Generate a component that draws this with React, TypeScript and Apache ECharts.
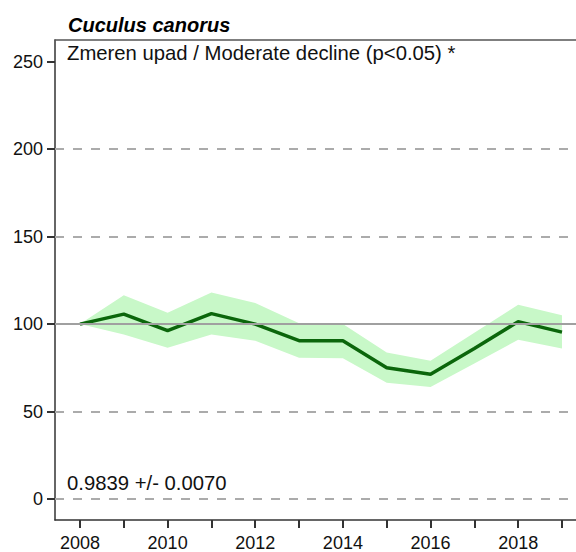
import React, { useEffect, useRef } from "react";
import * as echarts from "echarts";

const years = [2008, 2009, 2010, 2011, 2012, 2013, 2014, 2015, 2016, 2017, 2018, 2019];
const indexValues = [100, 105.7, 96.2, 106, 100, 90.5, 90.5, 75, 71.3, 86, 101.4, 95.4];
const upperValues = [100, 116.5, 106.5, 118, 112, 100.5, 100, 83.7, 79, 95, 111, 105];
const lowerValues = [100, 94, 86.5, 94, 90.5, 80.7, 80.5, 66.4, 64, 77.5, 91, 86];
const xTickValues = [2008, 2009, 2010, 2011, 2012, 2013, 2014, 2015, 2016, 2017, 2018, 2019];
const xLabelValues = [2008, 2010, 2012, 2014, 2016, 2018];
const yTickValues = [0, 50, 100, 150, 200, 250];
const dashedLines = [0, 50, 150, 200];
const referenceLine = 100;
const titleText = "Cuculus canorus";
const subtitleText = "Zmeren upad / Moderate decline (p<0.05) *";
const slopeText = "0.9839 +/- 0.0070";

const FONT = "'Liberation Sans', Arial, sans-serif";

export default function App() {
  const ref = useRef<HTMLDivElement>(null);
  useEffect(() => {
    if (!ref.current) return;
    const chart = echarts.init(ref.current, undefined, { renderer: "svg" });
    const xMin = 2007.43;
    const xMax = 2019.32;
    const bandData = years.map((y, i) => [y, upperValues[i], lowerValues[i]]);
    const option: any = {
      animation: false,
      backgroundColor: "#ffffff",
      grid: { left: 55, top: 40, right: 0, bottom: 32 },
      xAxis: [
        {
          type: "value",
          min: xMin,
          max: xMax,
          splitLine: { show: false },
          axisLine: { show: true, onZero: false, lineStyle: { color: "#333", width: 1.5 } },
          axisTick: {
            show: true,
            customValues: xTickValues,
            length: 8,
            lineStyle: { color: "#333", width: 2 },
          },
          axisLabel: {
            customValues: xLabelValues,
            margin: 14,
            color: "#111",
            fontSize: 18,
            fontFamily: FONT,
            formatter: (v: number) => String(Math.round(v)),
          },
        },
        {
          type: "value",
          position: "top",
          min: xMin,
          max: xMax,
          splitLine: { show: false },
          axisLine: { show: true, onZero: false, lineStyle: { color: "#555", width: 1.5 } },
          axisTick: { show: false },
          axisLabel: { show: false },
        },
      ],
      yAxis: {
        type: "value",
        min: -12,
        max: 262.4,
        splitLine: { show: false },
        axisLine: { show: true, onZero: false, lineStyle: { color: "#333", width: 1.5 } },
        axisTick: {
          show: true,
          customValues: yTickValues,
          length: 8,
          lineStyle: { color: "#333", width: 2 },
        },
        axisLabel: {
          customValues: yTickValues,
          margin: 12,
          color: "#111",
          fontSize: 18,
          fontFamily: FONT,
        },
      },
      graphic: [
        {
          type: "text",
          style: {
            x: 68,
            y: 25,
            text: titleText,
            font: `italic bold 20px ${FONT}`,
            fill: "#000",
            verticalAlign: "middle",
          },
        },
        {
          type: "text",
          style: {
            x: 67,
            y: 53,
            text: subtitleText,
            font: `20.3px ${FONT}`,
            fill: "#111",
            verticalAlign: "middle",
          },
        },
        {
          type: "text",
          style: {
            x: 67,
            y: 483,
            text: slopeText,
            font: `20.3px ${FONT}`,
            fill: "#111",
            verticalAlign: "middle",
          },
        },
      ],
      series: [
        {
          type: "custom",
          name: "band",
          data: bandData,
          encode: { x: 0, y: [1, 2] },
          silent: true,
          z: 1,
          renderItem: (params: any, api: any) => {
            if (params.dataIndex !== 0) return null;
            const upper = bandData.map((d) => api.coord([d[0], d[1]]));
            const lower = bandData.map((d) => api.coord([d[0], d[2]])).reverse();
            return {
              type: "polygon",
              shape: { points: upper.concat(lower) },
              style: { fill: "#c8f8c8", stroke: "none" },
            };
          },
        },
        {
          type: "line",
          name: "refs",
          data: [],
          z: 2,
          markLine: {
            silent: true,
            symbol: "none",
            label: { show: false },
            data: [
              ...dashedLines.map((v) => ({
                yAxis: v,
                lineStyle: { color: "#ababab", width: 2, type: [9, 9] },
              })),
              { yAxis: referenceLine, lineStyle: { color: "#a0a0a0", width: 1.8, type: "solid" } },
            ],
          },
        },
        {
          type: "line",
          name: "index",
          data: years.map((y, i) => [y, indexValues[i]]),
          symbol: "none",
          lineStyle: { color: "#0b660b", width: 3.5 },
          z: 3,
        },
      ],
    };
    chart.setOption(option);
    return () => chart.dispose();
  }, []);
  return (
    <div
      ref={ref}
      style={{ position: "fixed", left: 0, top: 0, width: 576, height: 552 }}
    />
  );
}
